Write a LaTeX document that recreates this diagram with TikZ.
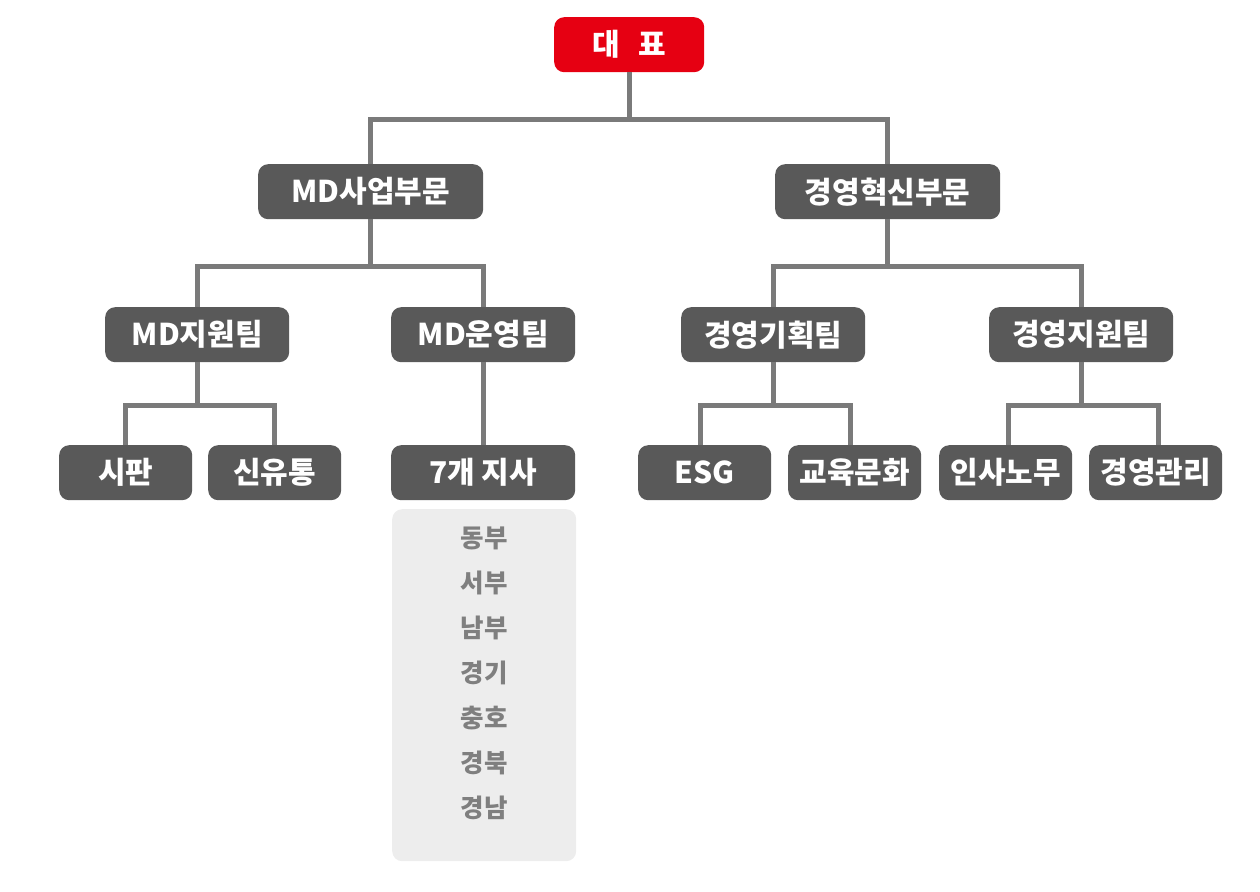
\documentclass[tikz,border=0pt]{standalone}
\usepackage{fontspec}
\setmainfont{Noto Sans CJK KR}
\definecolor{boxgray}{HTML}{595959}
\definecolor{linegray}{HTML}{7A7A7A}
\definecolor{ceored}{HTML}{E60012}
\definecolor{panelgray}{HTML}{EDEDED}
\definecolor{paneltext}{HTML}{7F7F7F}
\begin{document}
\begin{tikzpicture}[x=1pt,y=-1pt,
  unit/.style={fill=boxgray,text=white,rounded corners=10pt,inner sep=0pt,
    font=\fontsize{30}{32}\selectfont\bfseries,anchor=north west},
  conn/.style={draw=linegray,line width=5pt,line join=miter},
  ptext/.style={text=paneltext,font=\fontsize{25.5}{28}\selectfont\bfseries}]
\useasboundingbox (0,0) rectangle (1260,891);
% boxes
\node[unit,fill=ceored,minimum width=150pt,minimum height=55pt] (ceo) at (554,17) {대\hspace{0.6em}표};
\node[unit,minimum width=225pt,minimum height=55pt] (md) at (258,164) {MD사업부문};
\node[unit,minimum width=225pt,minimum height=55pt] (mi) at (775,164) {경영혁신부문};
\node[unit,minimum width=184pt,minimum height=55pt] (mds) at (105,307) {MD지원팀};
\node[unit,minimum width=184pt,minimum height=55pt] (mdo) at (391,307) {MD운영팀};
\node[unit,minimum width=184pt,minimum height=55pt] (plan) at (681,307) {경영기획팀};
\node[unit,minimum width=184pt,minimum height=55pt] (supp) at (989,307) {경영지원팀};
\node[unit,minimum width=133pt,minimum height=55pt] (sp) at (59,445) {시판};
\node[unit,minimum width=133pt,minimum height=55pt] (syt) at (208,445) {신유통};
\node[unit,minimum width=184pt,minimum height=55pt] (br) at (391,445) {7개 지사};
\node[unit,minimum width=133pt,minimum height=55pt] (esg) at (638,445) {ESG};
\node[unit,minimum width=133pt,minimum height=55pt] (edu) at (788,445) {교육문화};
\node[unit,minimum width=133pt,minimum height=55pt] (hr) at (939,445) {인사노무};
\node[unit,minimum width=133pt,minimum height=55pt] (mgmt) at (1089,445) {경영관리};
% panel
\node[fill=panelgray,rounded corners=10pt,inner sep=0pt,minimum width=184pt,minimum height=352pt,anchor=north west] (panel) at (392,509) {};
\node[ptext] (p1) at (484,538) {동부};
\node[ptext] (p2) at (484,583) {서부};
\node[ptext] (p3) at (484,628) {남부};
\node[ptext] (p4) at (484,673) {경기};
\node[ptext] (p5) at (484,718) {충호};
\node[ptext] (p6) at (484,763) {경북};
\node[ptext] (p7) at (484,808) {경남};
% connectors
\draw[conn] (ceo.south) -- ++(0,47) -| (md.north);
\draw[conn] (ceo.south) -- ++(0,47) -| (mi.north);
\draw[conn] (md.south) -- ++(0,47) -| (mds.north);
\draw[conn] (md.south) -- ++(0,47) -| (mdo.north);
\draw[conn] (mi.south) -- ++(0,47) -| (plan.north);
\draw[conn] (mi.south) -- ++(0,47) -| (supp.north);
\draw[conn] (mds.south) -- ++(0,43) -| (sp.north);
\draw[conn] (mds.south) -- ++(0,43) -| (syt.north);
\draw[conn] (mdo.south) -- (br.north);
\draw[conn] (plan.south) -- ++(0,43) -| ([xshift=-4pt]esg.north);
\draw[conn] (plan.south) -- ++(0,43) -| ([xshift=-4pt]edu.north);
\draw[conn] (supp.south) -- ++(0,43) -| ([xshift=3pt]hr.north);
\draw[conn] (supp.south) -- ++(0,43) -| ([xshift=3pt]mgmt.north);
\end{tikzpicture}
\end{document}
